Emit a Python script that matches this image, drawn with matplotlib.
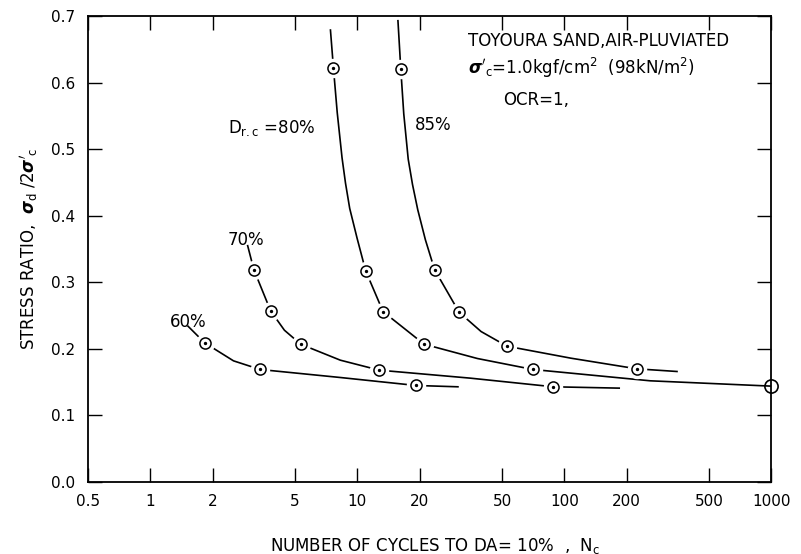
import matplotlib.pyplot as plt

# Toyoura sand, stress ratio vs number of cycles to DA=10%
# test points (circles) for each relative density
n_60 = [1.83, 3.39, 19.2]
sr_60 = [0.209, 0.169, 0.145]
n_70 = [3.16, 3.81, 5.32, 12.75, 88.5]
sr_70 = [0.319, 0.257, 0.207, 0.168, 0.143]
n_80 = [7.66, 10.97, 13.3, 21.0, 70.6]
sr_80 = [0.622, 0.317, 0.256, 0.207, 0.169]
n_85 = [16.2, 23.6, 31.0, 52.8, 224]
sr_85 = [0.621, 0.319, 0.255, 0.204, 0.170]
# did not reach DA=10% within 1000 cycles
n_nofail = [1000]
sr_nofail = [0.144]

# hand drawn curves
curve_60_n = [1.52, 1.83, 2.52, 3.39, 8.25, 19.2, 30.6]
curve_60_sr = [0.234, 0.209, 0.182, 0.169, 0.157, 0.145, 0.143]
curve_70_n = [2.95, 3.16, 3.81, 4.44, 5.32, 8.27, 12.75, 35.1, 88.5, 184]
curve_70_sr = [0.355, 0.319, 0.257, 0.228, 0.207, 0.183, 0.168, 0.156, 0.143, 0.141]
curve_80_n = [7.41, 7.66, 7.99, 8.43, 8.76, 9.18, 9.97, 10.97, 13.3, 21.0, 38, 70.6, 260, 1000]
curve_80_sr = [0.679, 0.622, 0.555, 0.487, 0.449, 0.411, 0.366, 0.317, 0.256, 0.207,
               0.1855, 0.169, 0.152, 0.144]
curve_85_n = [15.7, 16.2, 16.75, 17.6, 18.46, 19.57, 21.3, 23.6, 31.0, 39.6, 52.8,
              107.5, 224, 350]
curve_85_sr = [0.693, 0.621, 0.553, 0.485, 0.447, 0.409, 0.364, 0.319, 0.255, 0.226,
               0.204, 0.186, 0.170, 0.166]

x_ticks = [0.5, 1, 2, 5, 10, 20, 50, 100, 200, 500, 1000]
x_labels = ['0.5', '1', '2', '5', '10', '20', '50', '100', '200', '500', '1000']
y_ticks = [0.0, 0.1, 0.2, 0.3, 0.4, 0.5, 0.6, 0.7]

plt.rcParams['font.family'] = ['DejaVu Sans']
plt.rcParams['mathtext.fontset'] = 'dejavusans'

fig = plt.figure(figsize=(8.01, 5.54), dpi=100)
ax = fig.add_axes([0.110, 0.130, 0.853, 0.841])

curves = [(curve_60_n, curve_60_sr), (curve_70_n, curve_70_sr),
          (curve_80_n, curve_80_sr), (curve_85_n, curve_85_sr)]
for cn, cs in curves:
    ax.plot(cn, cs, color='black', linewidth=1.2, zorder=2)

points = [(n_60, sr_60), (n_70, sr_70), (n_80, sr_80), (n_85, sr_85)]
for pn, ps in points:
    # white halo so the curve stops short of each circle
    ax.plot(pn, ps, linestyle='none', marker='o', markersize=13,
            markerfacecolor='white', markeredgecolor='white', zorder=3)
    ax.plot(pn, ps, linestyle='none', marker='o', markersize=8,
            markerfacecolor='white', markeredgecolor='black',
            markeredgewidth=1.1, zorder=4)
    ax.plot(pn, ps, linestyle='none', marker='o', markersize=1.4,
            color='black', zorder=5)

ax.plot(n_nofail, sr_nofail, linestyle='none', marker='o', markersize=9.5,
        markerfacecolor='none', markeredgecolor='black',
        markeredgewidth=1.2, zorder=5, clip_on=False)

ax.set_xscale('log')
ax.set_xlim(0.5, 1000)
ax.set_ylim(0, 0.7)
ax.set_xticks(x_ticks)
ax.set_xticklabels(x_labels)
ax.xaxis.set_minor_locator(plt.NullLocator())
ax.set_yticks(y_ticks)
ax.set_yticklabels(['%.1f' % v for v in y_ticks])
ax.tick_params(direction='in', length=10, width=1.0, top=True, right=True,
               labelsize=11, pad=9)
for s in ax.spines.values():
    s.set_linewidth(1.3)

ax.set_xlabel(r'NUMBER OF CYCLES TO DA= 10%  ,  N$_{\rm c}$', fontsize=12)
ax.xaxis.set_label_coords(0.508, -0.115)
ax.set_ylabel(r"STRESS RATIO,  $\boldsymbol{\sigma}_{\rm d}$ /2$\boldsymbol{\sigma}'_{\rm c}$",
              fontsize=12)
ax.yaxis.set_label_coords(-0.07, 0.5)

# annotations
fig.text(468 / 801, 1 - 41 / 554, 'TOYOURA SAND,AIR-PLUVIATED', fontsize=12,
         va='center', ha='left')
fig.text(468 / 801, 1 - 68 / 554,
         r"$\boldsymbol{\sigma}'_{\rm c}$=1.0kgf/cm$^2$  (98kN/m$^2$)",
         fontsize=12, va='center', ha='left')
fig.text(503 / 801, 1 - 100 / 554, 'OCR=1,', fontsize=12, va='center', ha='left')
fig.text(415 / 801, 1 - 125 / 554, '85%', fontsize=12, va='center', ha='left')
fig.text(228 / 801, 1 - 128 / 554, r'D$_{\rm r.c}$ =80%', fontsize=12,
         va='center', ha='left')
fig.text(228 / 801, 1 - 240 / 554, '70%', fontsize=12, va='center', ha='left')
fig.text(170 / 801, 1 - 322 / 554, '60%', fontsize=12, va='center', ha='left')

fig.savefig('out.png', dpi=100)
